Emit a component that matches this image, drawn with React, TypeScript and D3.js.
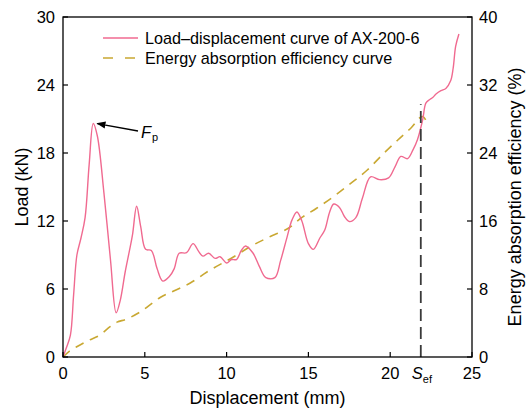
import React from "react";
import * as d3 from "d3";

const loadX = [0, 0.2, 0.45, 0.65, 0.85, 1.1, 1.35, 1.6, 1.85, 2.1, 2.5, 2.9, 3.25, 3.5, 3.8, 4.05, 4.25, 4.5, 4.75, 5.05, 5.4, 5.75, 6.1, 6.5, 6.8, 7.1, 7.55, 7.95, 8.3, 8.55, 8.9, 9.3, 9.6, 10.0, 10.3, 10.6, 10.9, 11.15, 11.6, 12.0, 12.4, 12.95, 13.3, 13.7, 14.0, 14.3, 14.6, 15.0, 15.3, 15.7, 16.0, 16.3, 16.55, 16.9, 17.2, 17.5, 17.9, 18.3, 18.8, 19.35, 19.9, 20.3, 20.65, 21.06, 21.4, 21.67, 21.98, 22.18, 22.4, 22.6, 22.8, 23.1, 23.4, 23.7, 23.85, 24.0, 24.2];
const loadY = [0, 0.8, 1.9, 5.5, 9.0, 10.5, 12.3, 17.0, 20.6, 19.5, 14.5, 8.6, 3.9, 5.0, 7.5, 9.3, 10.8, 13.3, 11.5, 9.5, 9.4, 7.8, 6.7, 7.1, 7.8, 9.15, 9.2, 10.0, 9.3, 8.9, 9.15, 8.7, 8.85, 8.3, 8.6, 8.6, 9.4, 9.8, 9.2, 8.0, 7.0, 7.0, 8.5, 10.6, 12.1, 12.8, 12.0, 10.0, 9.5, 10.5, 11.2, 12.8, 13.5, 13.2, 12.4, 11.95, 12.3, 14.0, 15.9, 15.65, 15.8, 16.8, 17.7, 17.5, 18.3, 19.2, 20.9, 22.4, 22.7, 22.9, 23.2, 23.5, 23.7, 24.4, 25.5, 27.4, 28.5];

const effX = [0, 0.4, 0.84, 1.5, 2.27, 2.9, 3.3, 3.8, 4.72, 5.94, 6.8, 7.78, 8.8, 10.44, 11.46, 12.7, 13.9, 14.52, 15.5, 16.56, 17.5, 18.6, 19.63, 20.45, 21.3, 21.98, 22.28];
const effY = [0, 0.7, 1.2, 1.9, 2.6, 3.6, 4.1, 4.4, 5.3, 7.0, 7.8, 8.7, 10.0, 11.8, 13.0, 14.2, 15.3, 16.3, 17.5, 18.9, 20.3, 22.0, 24.0, 25.5, 27.0, 28.3, 27.4];

const xTicks = [0, 5, 10, 15, 20, 25];
const yLeftTicks = [0, 6, 12, 18, 24, 30];
const yRightTicks = [0, 8, 16, 24, 32, 40];
const sEf = 21.87;
const sEfTop = 22.3;
const peakX = 1.85;
const peakY = 20.6;

const legendLabels = ["Load\u2013displacement curve of AX-200-6", "Energy absorption efficiency curve"];

export default function App() {
  const W = 526, H = 410;
  const L = 63, R = 472, T = 17, B = 357;
  const x = d3.scaleLinear().domain([0, 25]).range([L, R]);
  const yL = d3.scaleLinear().domain([0, 30]).range([B, T]);
  const yR = d3.scaleLinear().domain([0, 40]).range([B, T]);
  const font = "Liberation Sans, Arial, Helvetica, sans-serif";

  const loadData = loadX.map((v, i) => [v, loadY[i]] as [number, number]);
  const effData = effX.map((v, i) => [v, effY[i]] as [number, number]);

  const loadLine = d3.line<[number, number]>().x(d => x(d[0])).y(d => yL(d[1])).curve(d3.curveCatmullRom.alpha(0.5));
  const effLine = d3.line<[number, number]>().x(d => x(d[0])).y(d => yR(d[1])).curve(d3.curveMonotoneX);

  const tickLen = 5;
  const px = x(peakX), py = yL(peakY);

  return (
    <svg width={W} height={H} style={{ position: "absolute", left: 0, top: 0, background: "#fff" }} fontFamily={font}>
      <defs>
        <marker id="arr" viewBox="0 0 10 10" refX="9" refY="5" markerWidth="7" markerHeight="7" orient="auto-start-reverse">
          <path d="M0,1 L10,5 L0,9 z" fill="#000" />
        </marker>
      </defs>
      {/* curves */}
      <path d={effLine(effData) || ""} fill="none" stroke="#c9a832" strokeWidth={1.6} strokeDasharray="9,7" />
      <path d={loadLine(loadData) || ""} fill="none" stroke="#f06a90" strokeWidth={1.4} />
      {/* S_ef line */}
      <line x1={x(sEf)} x2={x(sEf)} y1={B} y2={yL(sEfTop)} stroke="#3a3a3a" strokeWidth={1.8} strokeDasharray="12,6" />
      {/* frame */}
      <rect x={L} y={T} width={R - L} height={B - T} fill="none" stroke="#000" strokeWidth={1.3} />
      {/* x ticks */}
      {xTicks.map(t => (
        <g key={"x" + t}>
          <line x1={x(t)} x2={x(t)} y1={B} y2={B - tickLen} stroke="#000" strokeWidth={1.2} />
          <text x={x(t)} y={379} fontSize={16.5} textAnchor="middle">{t}</text>
        </g>
      ))}
      <text x={x(sEf) - 9} y={379} fontSize={16.5} fontStyle="italic">S</text>
      <text x={x(sEf) + 2} y={383} fontSize={11}>ef</text>
      {/* left ticks */}
      {yLeftTicks.map(t => (
        <g key={"yl" + t}>
          <line x1={L} x2={L + tickLen} y1={yL(t)} y2={yL(t)} stroke="#000" strokeWidth={1.2} />
          <text x={55} y={yL(t) + 6} fontSize={16.5} textAnchor="end">{t}</text>
        </g>
      ))}
      {/* right ticks */}
      {yRightTicks.map(t => (
        <g key={"yr" + t}>
          <line x1={R} x2={R - tickLen} y1={yR(t)} y2={yR(t)} stroke="#000" strokeWidth={1.2} />
          <text x={479} y={yR(t) + 6} fontSize={16.5} textAnchor="start">{t}</text>
        </g>
      ))}
      {/* axis titles */}
      <text x={(L + R) / 2} y={404} fontSize={18} textAnchor="middle">Displacement (mm)</text>
      <text transform={`translate(28,${(T + B) / 2}) rotate(-90)`} fontSize={18} textAnchor="middle">Load (kN)</text>
      <text transform={`translate(521,${(T + B) / 2 + 10}) rotate(-90)`} fontSize={18} textAnchor="middle">Energy absorption efficiency (%)</text>
      {/* legend */}
      <line x1={103} x2={138} y1={38} y2={38} stroke="#f06a90" strokeWidth={1.4} />
      <line x1={103} x2={138} y1={58} y2={58} stroke="#c9a832" strokeWidth={1.6} strokeDasharray="10,12" />
      <text x={145} y={44} fontSize={16.2}>{legendLabels[0]}</text>
      <text x={145} y={64} fontSize={16.2}>{legendLabels[1]}</text>
      {/* Fp annotation */}
      <line x1={138} y1={131} x2={px + 4} y2={py} stroke="#000" strokeWidth={1.3} markerEnd="url(#arr)" />
      <text x={141} y={138} fontSize={16.5} fontStyle="italic">F</text>
      <text x={152} y={141} fontSize={11}>p</text>
    </svg>
  );
}
